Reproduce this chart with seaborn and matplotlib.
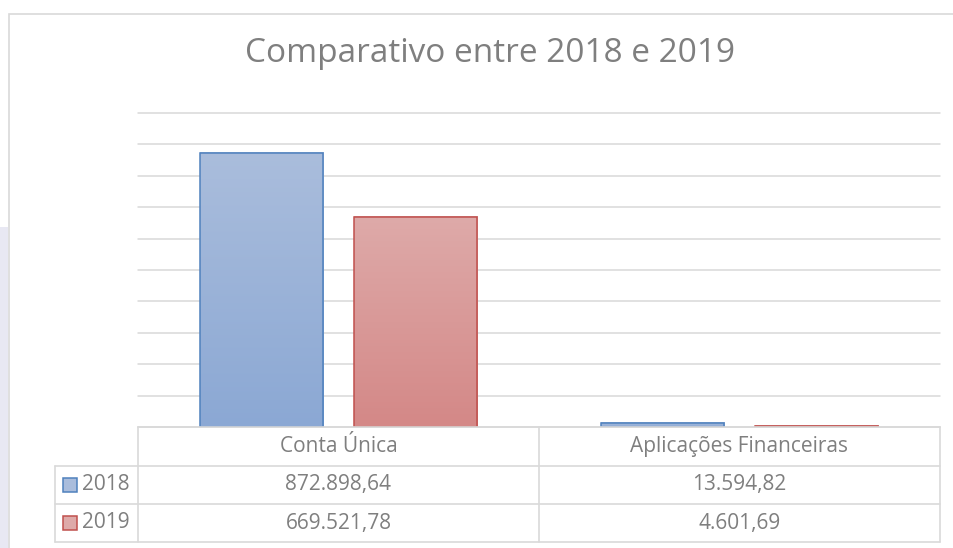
import numpy as np
import pandas as pd
import matplotlib
matplotlib.use("Agg")
import matplotlib.pyplot as plt
import seaborn as sns
from matplotlib.patches import Rectangle
from matplotlib.lines import Line2D
from matplotlib.colors import LinearSegmentedColormap

# ---------------------------------------
# DADOS
# ---------------------------------------

categorias = ["Conta Única", "Aplicações Financeiras"]
anos = ["2018", "2019"]
valores_2018 = [872898.64, 13594.82]
valores_2019 = [669521.78, 4601.69]

titulo = "Comparativo entre 2018 e 2019"

# cores (borda, topo do gradiente, base do gradiente)
cores_borda = {"2018": "#4f81bd", "2019": "#c0504d"}
cores_topo = {"2018": "#aabddc", "2019": "#deaaa9"}
cores_base = {"2018": "#8ba8d4", "2019": "#d48887"}

cinza_linha = "#d9d9d9"
cinza_texto = "#7f7f7f"


def formata_br(v):
    s = f"{v:,.2f}"
    return s.replace(",", "X").replace(".", ",").replace("X", ".")


df = pd.DataFrame({
    "categoria": categorias * 2,
    "ano": [anos[0]] * len(categorias) + [anos[1]] * len(categorias),
    "valor": valores_2018 + valores_2019,
})

sns.set_style("white")
plt.rcParams["font.family"] = ["Open Sans", "DejaVu Sans"]

W, H = 954, 548
fig = plt.figure(figsize=(W / 100, H / 100), dpi=100)


def fx(px):
    return px / W


def fy(py):
    return 1 - py / H


# moldura do gráfico e faixa lateral
fig.patches.append(Rectangle((0, 0), fx(8), fy(227), transform=fig.transFigure,
                             facecolor="#e8e8f3", edgecolor="none", zorder=-2))
fig.patches.append(Rectangle((fx(9), -0.05), 1.0, fy(14) + 0.05, transform=fig.transFigure,
                             facecolor="none", edgecolor=cinza_linha, lw=1.2, zorder=-1))

ax = fig.add_axes([fx(138), fy(427), fx(940) - fx(138), fy(113) - fy(427)])
ax.set_facecolor("none")

sns.barplot(data=df, x="categoria", y="valor", hue="ano", hue_order=anos,
            palette=cores_base, width=0.768, gap=0.195, saturation=1,
            legend=False, ax=ax)

# gradiente dentro das barras
for container, ano in zip(ax.containers, anos):
    cmap = LinearSegmentedColormap.from_list("g" + ano, [cores_base[ano], cores_topo[ano]])
    for bar in container:
        x, y = bar.get_x(), bar.get_y()
        w, h = bar.get_width(), bar.get_height()
        grad = np.linspace(0, 1, 256).reshape(-1, 1)
        ax.imshow(grad, extent=[x, x + w, y, y + h], origin="lower", cmap=cmap,
                  aspect="auto", zorder=2, interpolation="bilinear")
        bar.set_facecolor("none")
        bar.set_edgecolor(cores_borda[ano])
        bar.set_linewidth(1.1)
        bar.set_zorder(3)

ax.set_xlim(-0.5, len(categorias) - 0.5)
ax.set_ylim(0, 1000000)
ax.set_yticks(np.arange(0, 1000001, 100000))
ax.set_axisbelow(True)
ax.yaxis.grid(True, color=cinza_linha, lw=1.1)
for gl in ax.get_ygridlines():
    gl.set_clip_on(False)
ax.tick_params(left=False, labelleft=False, bottom=False, labelbottom=False)
ax.set_xlabel("")
ax.set_ylabel("")
for s in ax.spines.values():
    s.set_visible(False)

fig.text(fx(490), fy(53), titulo, ha="center", va="center",
         fontsize=24, color=cinza_texto)

# ---------------------------------------
# TABELA DE DADOS
# ---------------------------------------

to_fig = fig.transFigure.inverted()


def col_x(d):
    return to_fig.transform(ax.transData.transform((d, 0)))[0]


linhas_y = [427, 465.7, 504, 542]
x_esq = fx(55)
x_cols = [col_x(i - 0.5) for i in range(len(categorias) + 1)]


def linha(xs, ys):
    fig.lines.append(Line2D(xs, ys, transform=fig.transFigure,
                            color=cinza_linha, lw=1.2, zorder=5))


linha([x_cols[0], x_cols[-1]], [fy(linhas_y[0])] * 2)
for py in linhas_y[1:]:
    linha([x_esq, x_cols[-1]], [fy(py)] * 2)
for xc in x_cols:
    linha([xc, xc], [fy(linhas_y[0]), fy(linhas_y[-1])])
linha([x_esq, x_esq], [fy(linhas_y[1]), fy(linhas_y[-1])])

fs = 15
y_cab = (linhas_y[0] + linhas_y[1]) / 2
for i, cat in enumerate(categorias):
    fig.text(col_x(i), fy(y_cab), cat, ha="center", va="center",
             fontsize=fs, color=cinza_texto)

for r, (ano, vals) in enumerate(zip(anos, [valores_2018, valores_2019])):
    yc = (linhas_y[r + 1] + linhas_y[r + 2]) / 2
    fig.patches.append(Rectangle((fx(63), fy(yc + 7)), fx(14), fy(yc - 7) - fy(yc + 7),
                                 transform=fig.transFigure,
                                 facecolor=cores_topo[ano], edgecolor=cores_borda[ano],
                                 lw=1.1, zorder=6))
    fig.text(fx(82), fy(yc), ano, ha="left", va="center", fontsize=fs, color=cinza_texto)
    for i, v in enumerate(vals):
        fig.text(col_x(i), fy(yc), formata_br(v), ha="center", va="center",
                 fontsize=fs, color=cinza_texto)

fig.savefig("out.png", dpi=100)
